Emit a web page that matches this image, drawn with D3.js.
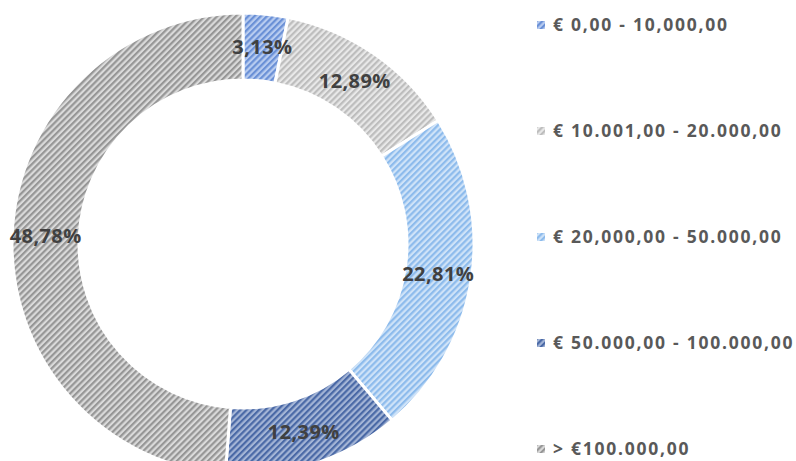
<!DOCTYPE html>
<html>
<head>
<meta charset="utf-8">
<script src="https://cdn.jsdelivr.net/npm/d3@7"></script>
<style>
  body { margin: 0; background: #fff; }
  svg { display: block; font-family: "Open Sans", Lato, sans-serif; }
</style>
</head>
<body>
<svg id="chart" width="796" height="461"></svg>
<script>
const categories = ["€ 0,00 - 10,000,00", "€ 10.001,00 - 20.000,00", "€ 20,000,00 - 50.000,00", "€ 50.000,00 - 100.000,00", "> €100.000,00"];
const values = [3.13, 12.89, 22.81, 12.39, 48.78];
const labels = ["3,13%", "12,89%", "22,81%", "12,39%", "48,78%"];
const fgColors = ["#6a90d6", "#bdbdbd", "#8dbbec", "#4a69a6", "#969696"];
const bgColors = ["#b8ccf0", "#e8e8e8", "#cfe3f8", "#a4b5d6", "#dadada"];

const svg = d3.select("#chart");
const cx = 243, cy = 244;
const outerR = 231, innerR = 164;

const defs = svg.append("defs");
categories.forEach((c, i) => {
    const p = defs.append("pattern")
        .attr("id", "pat-" + i)
        .attr("patternUnits", "userSpaceOnUse")
        .attr("width", 4.4)
        .attr("height", 4.4)
        .attr("patternTransform", "rotate(45)");
    p.append("rect").attr("width", 4.4).attr("height", 4.4).attr("fill", bgColors[i]);
    p.append("rect").attr("width", 2.2).attr("height", 4.4).attr("fill", fgColors[i]);
});

const pie = d3.pie().sort(null).value(d => d)(values);
const arc = d3.arc().innerRadius(innerR).outerRadius(outerR);
const labelArc = d3.arc().innerRadius((innerR + outerR) / 2).outerRadius((innerR + outerR) / 2);

const g = svg.append("g").attr("transform", `translate(${cx},${cy})`);

g.selectAll("path.slice")
    .data(pie)
    .enter()
    .append("path")
    .attr("class", "slice")
    .attr("d", arc)
    .attr("fill", (d, i) => `url(#pat-${i})`)
    .attr("stroke", "#fff")
    .attr("stroke-width", 3);

g.selectAll("text.lbl")
    .data(pie)
    .enter()
    .append("text")
    .attr("class", "lbl")
    .attr("transform", d => `translate(${labelArc.centroid(d)})`)
    .attr("text-anchor", "middle")
    .attr("dy", "0.35em")
    .attr("font-size", 20)
    .attr("letter-spacing", 0.4)
    .attr("font-weight", "bold")
    .attr("fill", "#404040")
    .text((d, i) => labels[i]);

// legend
const legendY = d3.scalePoint().domain(categories).range([25, 449]);
const legend = svg.append("g").selectAll("g")
    .data(categories)
    .enter()
    .append("g")
    .attr("transform", d => `translate(537,${legendY(d)})`);

legend.append("rect")
    .attr("x", 0)
    .attr("y", -4)
    .attr("width", 8)
    .attr("height", 8)
    .attr("fill", (d, i) => `url(#pat-${i})`);

legend.append("text")
    .attr("x", 16)
    .attr("dy", "0.35em")
    .attr("font-size", 17.5)
    .attr("letter-spacing", 1.75)
    .attr("font-weight", "bold")
    .attr("fill", "#595959")
    .text(d => d);
</script>
</body>
</html>
